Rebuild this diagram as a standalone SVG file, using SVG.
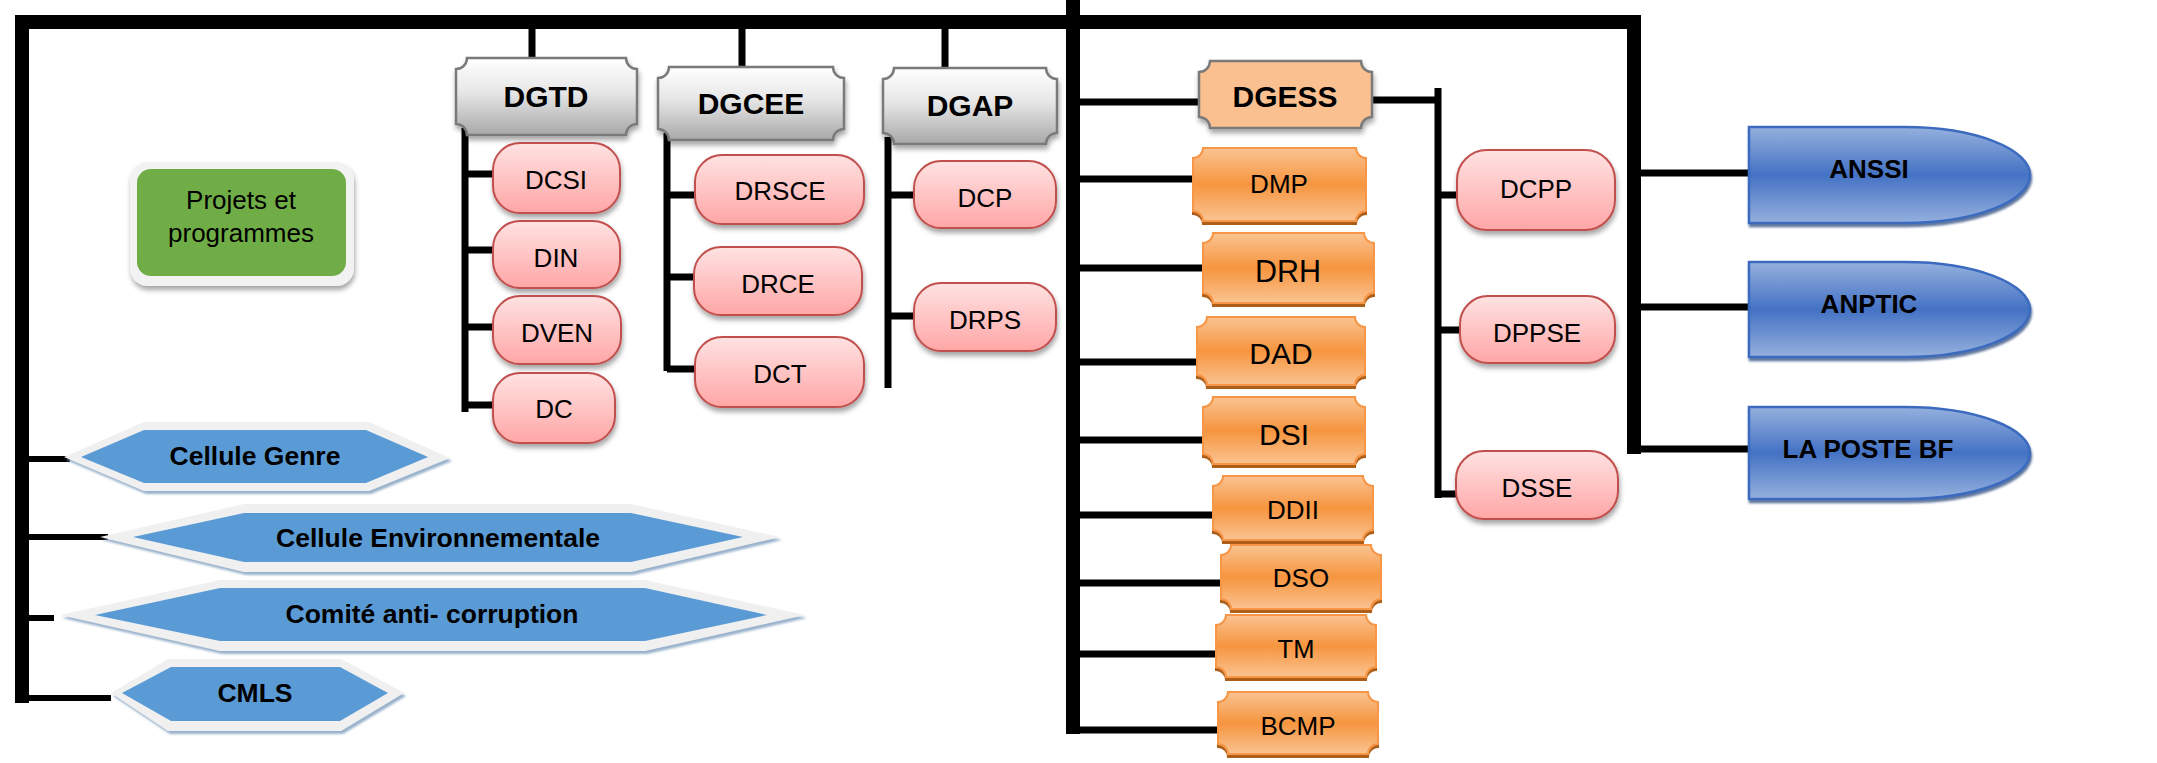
<svg xmlns="http://www.w3.org/2000/svg" width="2157" height="763" viewBox="0 0 2157 763">
<style>
.main{fill:none;stroke:#000;stroke-width:14;stroke-linejoin:miter}
.br{fill:none;stroke:#000;stroke-width:7}
.hdr{fill:url(#gGray);stroke:#7a7a7a;stroke-width:2.5;filter:url(#sh)}
.pill{fill:url(#gPink);stroke:#c0504d;stroke-width:2;filter:url(#sh)}
.org{fill:url(#gOrg);stroke:#f79646;stroke-width:2;filter:url(#shO)}
.blu{fill:url(#gBlue);stroke:#3a6bbf;stroke-width:2.5;filter:url(#shB)}
.hexo{fill:#f0f0f0;filter:url(#shH)}
.hexi{fill:#5b9bd5}
text{font-family:"Liberation Sans",Arial,sans-serif;fill:#000;text-anchor:middle}
.b{font-weight:bold}
.h{font-size:30px;font-weight:bold}
.p{font-size:26px}
.x{font-size:26.5px;font-weight:bold}
</style>
<defs>
<linearGradient id="gGray" x1="0" y1="0" x2="0" y2="1"><stop offset="0" stop-color="#ffffff"/><stop offset="0.45" stop-color="#e6e6e6"/><stop offset="1" stop-color="#a8a8a8"/></linearGradient>
<linearGradient id="gPink" x1="0" y1="0" x2="0" y2="1"><stop offset="0" stop-color="#ffe2e2"/><stop offset="1" stop-color="#ffa6a6"/></linearGradient>
<linearGradient id="gOrg" x1="0" y1="0" x2="0" y2="1"><stop offset="0" stop-color="#fac391"/><stop offset="0.5" stop-color="#f6953f"/><stop offset="1" stop-color="#fac391"/></linearGradient>
<linearGradient id="gBlue" x1="0" y1="0" x2="0" y2="1"><stop offset="0" stop-color="#95b0de"/><stop offset="0.5" stop-color="#4472c4"/><stop offset="1" stop-color="#95b0de"/></linearGradient>
<filter id="sh" x="-10%" y="-10%" width="120%" height="130%"><feDropShadow dx="1" dy="4" stdDeviation="2.5" flood-color="#000" flood-opacity="0.35"/></filter>
<filter id="shO" x="-10%" y="-10%" width="120%" height="130%"><feDropShadow dx="0" dy="3" stdDeviation="0.6" flood-color="#a9560c" flood-opacity="0.95"/></filter>
<filter id="shB" x="-10%" y="-10%" width="120%" height="130%"><feDropShadow dx="1" dy="3" stdDeviation="1" flood-color="#1f3d73" flood-opacity="0.7"/></filter>
<filter id="shH" x="-10%" y="-10%" width="120%" height="130%"><feDropShadow dx="2" dy="3" stdDeviation="1" flood-color="#7f9fbf" flood-opacity="0.8"/></filter>
</defs>

<g id="connectors">
<path class="main" d="M22,703 V22 H1634 V454"/>
<path class="main" d="M1073,0 V734"/>
<path class="br" d="M532,29 V58 M742,29 V67 M945,29 V68"/>
<path class="br" d="M465,128 V412 M465,174 H494 M465,250 H494 M465,327 H494 M465,405 H494"/>
<path class="br" d="M667,133 V371 M667,195 H696 M667,277 H695 M667,369 H696"/>
<path class="br" d="M888,137 V388 M888,195 H915 M888,316 H915"/>
<path class="br" d="M22,459 H70 M22,537 H108 M22,618 H54 M22,698 H111" style="stroke-width:6"/>
<path class="br" d="M1073,102 H1199 M1073,179 H1194 M1073,268 H1204 M1073,362 H1198 M1073,440 H1204 M1073,515 H1214 M1073,583 H1222 M1073,654 H1217 M1073,730 H1219"/>
<path class="br" d="M1372,100 H1438 M1438,88 V498 M1438,195 H1458 M1438,330 H1461 M1438,494 H1457"/>
<path class="br" d="M1634,173 H1751 M1634,307 H1751 M1634,449 H1751"/>
</g>

<g id="projets">
<rect x="130" y="162" width="224" height="124" rx="18" fill="#f2f2f2" filter="url(#sh)"/>
<rect x="137" y="169" width="209" height="107" rx="14" fill="#70ad47"/>
<text class="p" x="241" y="209">Projets et</text>
<text class="p" x="241" y="242">programmes</text>
</g>

<g id="DGTD"><path class="hdr" d="M467,58 H626 A11 11 0 0 0 637,69 V124 A11 11 0 0 0 626,135 H467 A11 11 0 0 0 456,124 V69 A11 11 0 0 0 467,58 Z"/><text class="h" x="546" y="107">DGTD</text></g>
<g id="DGCEE"><path class="hdr" d="M669,67 H833 A11 11 0 0 0 844,78 V129 A11 11 0 0 0 833,140 H669 A11 11 0 0 0 658,129 V78 A11 11 0 0 0 669,67 Z"/><text class="h" x="751" y="114">DGCEE</text></g>
<g id="DGAP"><path class="hdr" d="M894,68 H1046 A11 11 0 0 0 1057,79 V133 A11 11 0 0 0 1046,144 H894 A11 11 0 0 0 883,133 V79 A11 11 0 0 0 894,68 Z"/><text class="h" x="970" y="116">DGAP</text></g>

<g id="DCSI"><rect class="pill" x="493" y="143" width="127" height="70" rx="27"/><text class="p" x="556" y="189">DCSI</text></g>
<g id="DIN"><rect class="pill" x="493" y="221" width="127" height="67" rx="27"/><text class="p" x="556" y="267">DIN</text></g>
<g id="DVEN"><rect class="pill" x="493" y="296" width="128" height="68" rx="27"/><text class="p" x="557" y="342">DVEN</text></g>
<g id="DC"><rect class="pill" x="493" y="373" width="122" height="70" rx="27"/><text class="p" x="554" y="418">DC</text></g>
<g id="DRSCE"><rect class="pill" x="695" y="155" width="169" height="69" rx="27"/><text class="p" x="780" y="200">DRSCE</text></g>
<g id="DRCE"><rect class="pill" x="694" y="247" width="168" height="68" rx="27"/><text class="p" x="778" y="293">DRCE</text></g>
<g id="DCT"><rect class="pill" x="695" y="337" width="169" height="70" rx="27"/><text class="p" x="780" y="383">DCT</text></g>
<g id="DCP"><rect class="pill" x="914" y="161" width="142" height="67" rx="27"/><text class="p" x="985" y="207">DCP</text></g>
<g id="DRPS"><rect class="pill" x="914" y="283" width="142" height="68" rx="27"/><text class="p" x="985" y="329">DRPS</text></g>

<g id="CelluleGenre"><polygon class="hexo" points="64,457 144,422 369,422 450,458 369,491 144,491"/><polygon class="hexi" points="81,457 144,430 366,430 428,457 366,483 144,483"/><text class="x" x="255" y="465">Cellule Genre</text></g>
<g id="CelluleEnv"><polygon class="hexo" points="100,537 244,504 631,504 780,537 631,572 244,572"/><polygon class="hexi" points="133,537 244,513 631,513 743,537 631,562 244,562"/><text class="x" x="438" y="547">Cellule Environnementale</text></g>
<g id="Comite"><polygon class="hexo" points="60,615 220,580 645,580 805,615 645,651 220,651"/><polygon class="hexi" points="95,615 220,588 645,588 767,615 645,641 220,641"/><text class="x" x="432" y="623">Comité anti- corruption</text></g>
<g id="CMLS"><polygon class="hexo" points="111,693 168,659 341,659 404,693 341,731 168,731"/><polygon class="hexi" points="122,693 171,667 340,667 388,693 340,721 171,721"/><text class="x" x="255" y="702">CMLS</text></g>

<g id="DGESS"><path d="M1210,61 H1361 A11 11 0 0 0 1372,72 V117 A11 11 0 0 0 1361,128 H1210 A11 11 0 0 0 1199,117 V72 A11 11 0 0 0 1210,61 Z" fill="#fac090" stroke="#7a7a7a" stroke-width="2.5" filter="url(#sh)"/><text class="h" x="1285" y="107">DGESS</text></g>

<g id="DMP"><path class="org" d="M1203,148 H1356 A10 10 0 0 0 1366,158 V211 A10 10 0 0 0 1356,221 H1203 A10 10 0 0 0 1193,211 V158 A10 10 0 0 0 1203,148 Z"/><text x="1279" y="193" style="font-size:26px">DMP</text></g>
<g id="DRH"><path class="org" d="M1213,233 H1364 A10 10 0 0 0 1374,243 V293 A10 10 0 0 0 1364,303 H1213 A10 10 0 0 0 1203,293 V243 A10 10 0 0 0 1213,233 Z"/><text x="1288" y="282" style="font-size:30.5px">DRH</text></g>
<g id="DAD"><path class="org" d="M1207,317 H1355 A10 10 0 0 0 1365,327 V375 A10 10 0 0 0 1355,385 H1207 A10 10 0 0 0 1197,375 V327 A10 10 0 0 0 1207,317 Z"/><text x="1281" y="364" style="font-size:30px">DAD</text></g>
<g id="DSI"><path class="org" d="M1213,397 H1355 A10 10 0 0 0 1365,407 V454 A10 10 0 0 0 1355,464 H1213 A10 10 0 0 0 1203,454 V407 A10 10 0 0 0 1213,397 Z"/><text x="1284" y="445" style="font-size:30px">DSI</text></g>
<g id="DDII"><path class="org" d="M1223,476 H1363 A10 10 0 0 0 1373,486 V530 A10 10 0 0 0 1363,540 H1223 A10 10 0 0 0 1213,530 V486 A10 10 0 0 0 1223,476 Z"/><text x="1293" y="519" style="font-size:26px">DDII</text></g>
<g id="DSO"><path class="org" d="M1231,545 H1371 A10 10 0 0 0 1381,555 V599 A10 10 0 0 0 1371,609 H1231 A10 10 0 0 0 1221,599 V555 A10 10 0 0 0 1231,545 Z"/><text x="1301" y="587" style="font-size:26px">DSO</text></g>
<g id="TM"><path class="org" d="M1226,615 H1366 A10 10 0 0 0 1376,625 V667 A10 10 0 0 0 1366,677 H1226 A10 10 0 0 0 1216,667 V625 A10 10 0 0 0 1226,615 Z"/><text x="1296" y="658" style="font-size:25.5px">TM</text></g>
<g id="BCMP"><path class="org" d="M1228,692 H1368 A10 10 0 0 0 1378,702 V744 A10 10 0 0 0 1368,754 H1228 A10 10 0 0 0 1218,744 V702 A10 10 0 0 0 1228,692 Z"/><text x="1298" y="735" style="font-size:26px">BCMP</text></g>

<g id="DCPP"><rect class="pill" x="1457" y="150" width="158" height="80" rx="30"/><text class="p" x="1536" y="198">DCPP</text></g>
<g id="DPPSE"><rect class="pill" x="1460" y="296" width="155" height="67" rx="28"/><text class="p" x="1537" y="342">DPPSE</text></g>
<g id="DSSE"><rect class="pill" x="1456" y="451" width="162" height="68" rx="28"/><text class="p" x="1537" y="497">DSSE</text></g>

<g id="ANSSI"><path class="blu" d="M1749,127 H1905 A125 48 0 0 1 1905,223 H1749 Z"/><text class="b" x="1869" y="178" style="font-size:26px">ANSSI</text></g>
<g id="ANPTIC"><path class="blu" d="M1749,262 H1905 A125 47.5 0 0 1 1905,357 H1749 Z"/><text class="b" x="1869" y="313" style="font-size:26px">ANPTIC</text></g>
<g id="LAPOSTE"><path class="blu" d="M1749,407 H1905 A125 46 0 0 1 1905,499 H1749 Z"/><text class="b" x="1868" y="458" style="font-size:26px">LA POSTE BF</text></g>
</svg>
